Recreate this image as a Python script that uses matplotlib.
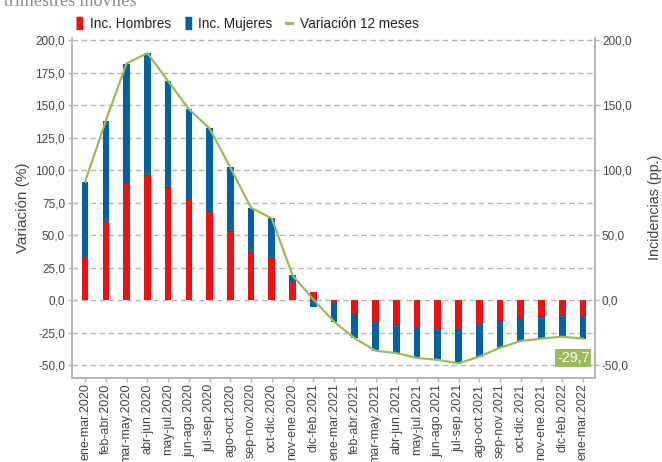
import numpy as np
import matplotlib
matplotlib.use('Agg')
import matplotlib.pyplot as plt
from matplotlib.lines import Line2D

plt.rcParams['font.family'] = ['Liberation Sans', 'DejaVu Sans']

''' DATA '''
periodos = ['ene-mar.2020', 'feb-abr.2020', 'mar-may.2020', 'abr-jun.2020',
            'may-jul.2020', 'jun-ago.2020', 'jul-sep.2020', 'ago-oct.2020',
            'sep-nov.2020', 'oct-dic.2020', 'nov-ene.2020', 'dic-feb.2021',
            'ene-mar.2021', 'feb-abr.2021', 'mar-may.2021', 'abr-jun.2021',
            'may-jul.2021', 'jun-ago.2021', 'jul-sep.2021', 'ago-oct.2021',
            'sep-nov.2021', 'oct-dic.2021', 'nov-ene.2021', 'dic-feb.2022',
            'ene-mar.2022']
inc_hombres = [33.0, 60.0, 89.0, 96.0, 87.0, 77.0, 68.0, 53.3, 37.2, 32.3,
               13.6, 5.9, -2.0, -10.5, -17.0, -19.5, -21.3, -22.0, -22.0,
               -18.7, -16.4, -13.8, -13.3, -11.5, -12.3]
inc_mujeres = [58.0, 78.0, 93.0, 94.0, 81.5, 70.0, 64.0, 48.7, 33.8, 30.5,
               5.4, -5.4, -14.6, -19.0, -22.0, -21.3, -23.3, -24.0, -26.7,
               -24.9, -20.3, -17.7, -16.4, -16.7, -17.4]
variacion = [91.0, 138.0, 182.0, 190.0, 168.5, 147.0, 132.0, 102.0, 71.0, 62.8,
             19.0, 0.5, -16.6, -29.5, -39.0, -40.8, -44.6, -46.0, -48.7,
             -43.6, -36.7, -31.5, -29.7, -28.2, -29.7]

rojo = '#ee1111'
azul = '#0062a3'
verde = '#9bbb59'
gris = '#b4b4b4'
txt = '#444444'

x = np.arange(len(periodos))
hom = np.array(inc_hombres)
muj = np.array(inc_mujeres)
# stack: positive/negative parts stack away from zero
base_muj = np.where((muj >= 0) == (hom >= 0), hom, 0.0)

fig = plt.figure(figsize=(6.62, 4.62), dpi=100)
ax = fig.add_axes([0.1088, 0.1818, 0.790, 0.737])

ax.bar(x, hom, width=0.32, color=rojo, zorder=3)
ax.bar(x, muj, bottom=base_muj, width=0.32, color=azul, zorder=3)
ax.plot(x, variacion, color=verde, lw=1.6, zorder=4)

ax.set_xlim(-0.63, len(periodos) - 1 + 0.58)
ax.set_ylim(-60, 202)
ax.set_yticks(np.arange(-50, 201, 25))
ax.set_yticklabels([('%.1f' % v).replace('.', ',') for v in np.arange(-50, 201, 25)])
ax.yaxis.grid(True, color=gris, lw=1.0, dashes=(4, 2.5), zorder=0)
ax.set_xticks(x)
ax.set_xticklabels(periodos, rotation=90)
ax.tick_params(axis='both', colors=gris, labelcolor=txt, length=3, width=1)
ax.tick_params(axis='y', labelsize=8.5, pad=2)
ax.tick_params(axis='x', labelsize=9, pad=1)
ax.set_ylabel('Variación (%)', fontsize=11, color=txt, labelpad=4)

for s in ['top']:
    ax.spines[s].set_visible(False)
for s in ['left', 'right', 'bottom']:
    ax.spines[s].set_color(gris)
    ax.spines[s].set_linewidth(1.2)

ax2 = ax.twinx()
ax2.set_ylim(ax.get_ylim())
ax2.set_yticks(np.arange(-50, 201, 50))
ax2.set_yticklabels([('%.1f' % v).replace('.', ',') for v in np.arange(-50, 201, 50)])
ax2.tick_params(axis='y', colors=gris, labelcolor=txt, length=3, width=1,
                labelsize=8.5, pad=2)
ax2.set_ylabel('Incidencias (pp.)', fontsize=10.3, color=txt, labelpad=12)
ax2.spines['top'].set_visible(False)
for s in ['left', 'right', 'bottom']:
    ax2.spines[s].set_color(gris)
    ax2.spines[s].set_linewidth(1.2)

# last value label
ax.text(len(periodos) - 1 - 0.46, -44.6, ('%.1f' % variacion[-1]).replace('.', ','),
        ha='center', va='center', color='white', fontsize=10.3, zorder=6,
        bbox=dict(boxstyle='square,pad=0.12', fc=verde, ec='none'))

# legend
rect = [(-0.45, -1), (0.45, -1), (0.45, 1), (-0.45, 1)]
handles = [Line2D([], [], ls='', marker=rect, ms=9, color=rojo),
           Line2D([], [], ls='', marker=rect, ms=9, color=azul),
           Line2D([], [], color=verde, lw=2.2)]
fig.legend(handles, ['Inc. Hombres', 'Inc. Mujeres', 'Variación 12 meses'],
           ncol=3, frameon=False, fontsize=9.8, loc='center left',
           bbox_to_anchor=(0.097, 0.948), handlelength=0.4, handletextpad=0.6,
           columnspacing=1.0, labelcolor='#222222')

# title cut off at the top, as in the source image
fig.text(0.006, 0.987, 'trimestres móviles', family='Liberation Serif',
         fontsize=13, color='#8a8a8a', va='baseline', ha='left')

fig.savefig('out.png', dpi=100)
